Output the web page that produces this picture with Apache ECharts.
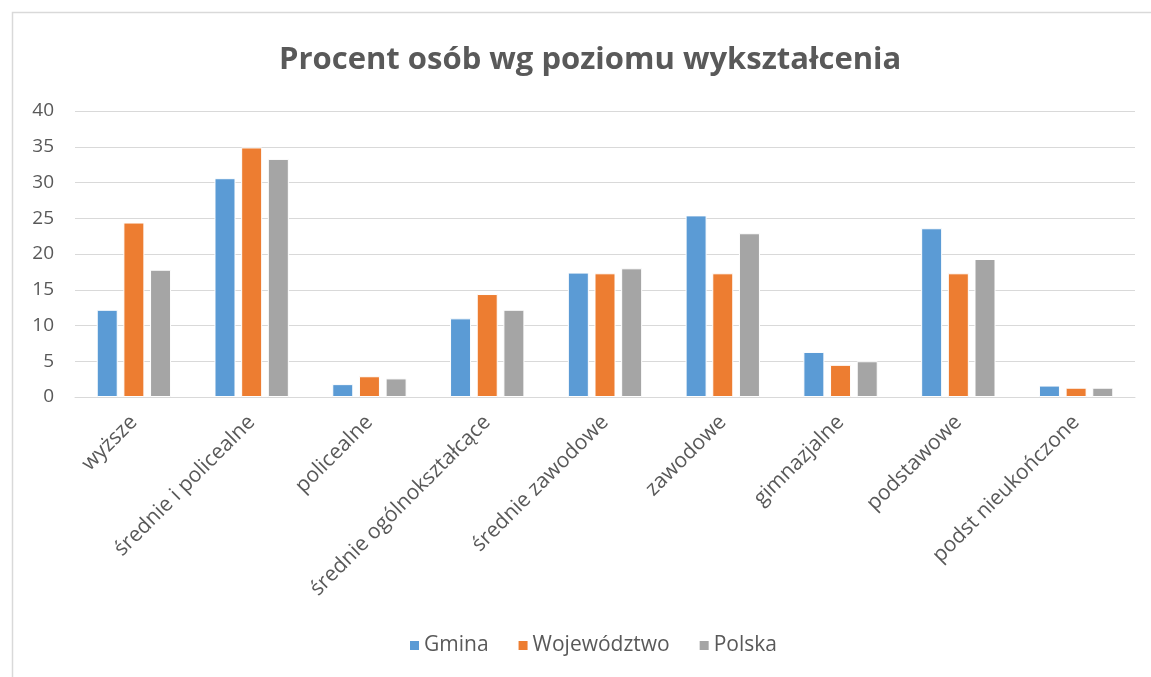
<!DOCTYPE html>
<html>
<head>
<meta charset="utf-8">
<script src="https://cdn.jsdelivr.net/npm/echarts@6/dist/echarts.min.js"></script>
<style>html,body{margin:0;padding:0;background:#fff}#c{width:1151px;height:677px}</style>
</head>
<body>
<div id="c"></div>
<script>
const categories = ['wyższe','średnie i policealne','policealne','średnie ogólnokształcące','średnie zawodowe','zawodowe','gimnazjalne','podstawowe','podst nieukończone'];
const gmina = [12.2, 30.6, 1.8, 11.0, 17.4, 25.4, 6.3, 23.6, 1.6];
const wojewodztwo = [24.4, 34.9, 2.9, 14.4, 17.3, 17.3, 4.5, 17.3, 1.3];
const polska = [17.8, 33.3, 2.6, 12.2, 18.0, 22.9, 5.0, 19.3, 1.3];
const yTicks = [0, 5, 10, 15, 20, 25, 30, 35, 40];

const font = '"Open Sans", sans-serif';
const chart = echarts.init(document.getElementById('c'));
const mk = (name, data, color) => ({
  name, type: 'bar', data, barWidth: 21, barGap: '27%',
  itemStyle: { color, borderColor: '#ffffff', borderWidth: 1 }
});
chart.setOption({
  animation: false,
  graphic: [{
    type: 'rect', shape: { x: 12.5, y: 12.5, width: 1160, height: 700 },
    style: { fill: 'none', stroke: '#d9d9d9', lineWidth: 1.5 }, silent: true
  }],
  title: {
    text: 'Procent osób wg poziomu wykształcenia', left: 274, top: 40,
    textStyle: { fontFamily: font, fontWeight: 'bold', fontSize: 31, color: '#595959' }
  },
  legend: {
    bottom: 16, left: 403, itemWidth: 11, itemHeight: 11, itemGap: 28,
    icon: 'rect',
    textStyle: { fontFamily: font, fontSize: 21, color: '#595959', padding: [0, 0, 0, -1] },
    data: ['Gmina', 'Województwo', 'Polska']
  },
  grid: { left: 75, right: 16, top: 111, bottom: 280, containLabel: false },
  xAxis: {
    type: 'category', data: categories,
    axisLine: { lineStyle: { color: '#d9d9d9', width: 1 } },
    axisTick: { show: false },
    axisLabel: { rotate: 45, interval: 0, fontFamily: font, fontSize: 21, color: '#595959', margin: 22 }
  },
  yAxis: {
    type: 'value', min: yTicks[0], max: yTicks[yTicks.length - 1], interval: 5,
    axisLine: { show: false }, axisTick: { show: false },
    splitLine: { lineStyle: { color: '#d9d9d9', width: 1 } },
    axisLabel: { fontFamily: font, fontSize: 19, color: '#595959', margin: 21 }
  },
  series: [
    mk('Gmina', gmina, '#5b9bd5'),
    mk('Województwo', wojewodztwo, '#ed7d31'),
    mk('Polska', polska, '#a5a5a5')
  ]
});
</script>
</body>
</html>
